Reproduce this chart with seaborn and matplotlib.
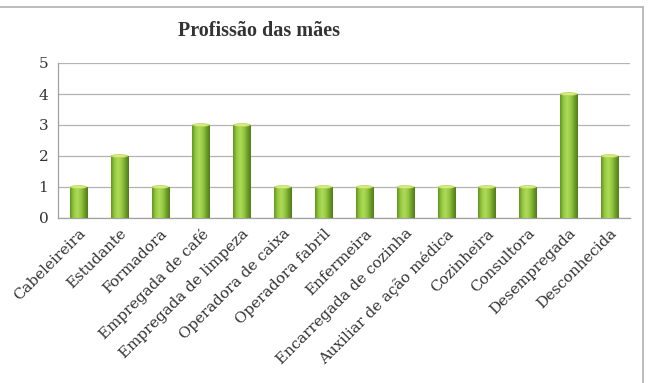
import numpy as np
import pandas as pd
import matplotlib
matplotlib.use("Agg")
import matplotlib.pyplot as plt
import seaborn as sns
from matplotlib.patches import Ellipse
from matplotlib.colors import LinearSegmentedColormap

profissoes = ["Cabeleireira", "Estudante", "Formadora", "Empregada de café",
              "Empregada de limpeza", "Operadora de caixa", "Operadora fabril",
              "Enfermeira", "Encarregada de cozinha", "Auxiliar de ação médica",
              "Cozinheira", "Consultora", "Desempregada", "Desconhecida"]
contagens = [1, 2, 1, 3, 3, 1, 1, 1, 1, 1, 1, 1, 4, 2]
y_ticks = [0, 1, 2, 3, 4, 5]

df = pd.DataFrame({"Profissão": profissoes, "N": contagens})

sns.set_style("white")
plt.rcParams["font.family"] = ["DejaVu Serif"]

fig = plt.figure(figsize=(6.49, 3.83), dpi=100)
ax = fig.add_axes([58 / 649, 1 - 218 / 383, 572 / 649, 155 / 383])

sns.barplot(data=df, x="Profissão", y="N", color="#8cc43c", width=0.42,
            edgecolor="none", ax=ax, zorder=3)

# gradiente tipo cilindro (estilo Excel)
cmap = LinearSegmentedColormap.from_list(
    "cil", ["#639421", "#94ca40", "#b0d95a", "#97cb44", "#72a22a", "#517c19"])
grad = np.linspace(0, 1, 64).reshape(1, -1)
for p in ax.patches:
    x0, y0 = p.get_x(), p.get_y()
    w, h = p.get_width(), p.get_height()
    im = ax.imshow(grad, cmap=cmap, aspect="auto", extent=[x0, x0 + w, y0, y0 + h],
                   zorder=4)
    im.set_clip_path(p)
    ax.add_patch(Ellipse((x0 + w / 2, y0 + h), w * 0.95, 0.09,
                         facecolor="#d8ec7e", edgecolor="#b5d45a", lw=0.5, zorder=5))

ax.set_xlim(-0.5, len(profissoes) - 0.5)
ax.set_ylim(0, 5)
ax.set_yticks(y_ticks)
ax.set_yticklabels([str(v) for v in y_ticks], fontsize=11, color="#333333")
ax.set_xticks(range(len(profissoes)))
ax.set_xticklabels(profissoes, rotation=45, ha="right", rotation_mode="anchor",
                   fontsize=10.8, color="#333333")
ax.tick_params(axis="x", length=0, pad=6)
ax.set_xticks(np.arange(-0.5, len(profissoes), 1), minor=True)
ax.tick_params(axis="x", which="minor", length=4, color="#a0a0a0", width=0.8)
ax.tick_params(axis="y", length=4, color="#a0a0a0", width=0.8, pad=3)
ax.set_xlabel("")
ax.set_ylabel("")
ax.grid(axis="y", color="#b3b3b3", lw=0.9, zorder=0)
for s in ["top", "right"]:
    ax.spines[s].set_visible(False)
for s in ["left", "bottom"]:
    ax.spines[s].set_color("#a0a0a0")
    ax.spines[s].set_linewidth(0.9)

fig.text(259 / 649, 1 - 31 / 383, "Profissão das mães", ha="center", va="center",
         fontsize=14.5, fontweight="bold", color="#333333",
         family=["Liberation Serif", "DejaVu Serif"])

# moldura do gráfico
fig.add_artist(plt.Line2D([0, 643 / 649], [1 - 7 / 383, 1 - 7 / 383],
                          color="#b0b0b0", lw=1.2))
fig.add_artist(plt.Line2D([643 / 649, 643 / 649], [1 - 7 / 383, 0],
                          color="#b0b0b0", lw=1.2))

fig.savefig("out.png", dpi=100)
